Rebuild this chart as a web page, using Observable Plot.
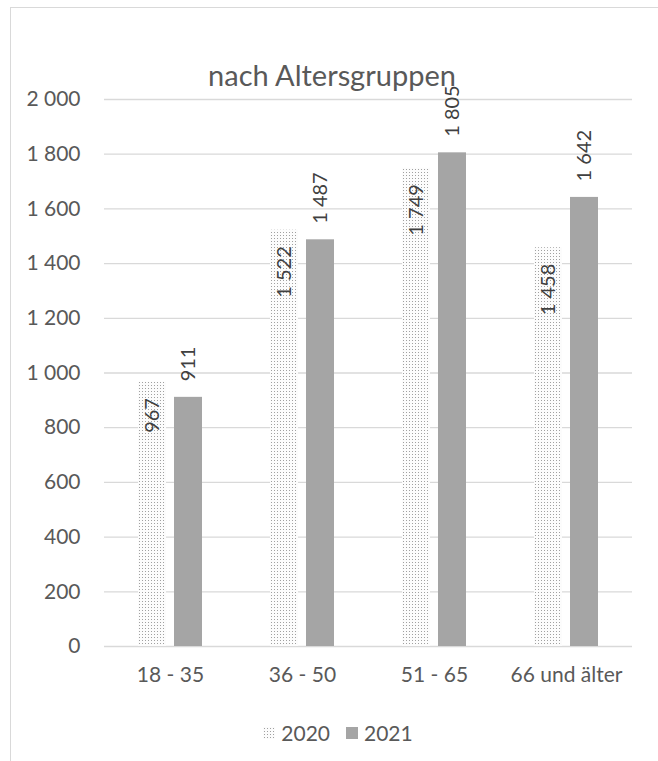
<!DOCTYPE html>
<html>
<head>
<meta charset="utf-8">
<script src="https://cdn.jsdelivr.net/npm/d3@7"></script>
<script src="https://cdn.jsdelivr.net/npm/@observablehq/plot@0.6"></script>
<style>
  body { margin: 0; background: #fff; font-family: Lato, "Open Sans", sans-serif; }
  #wrap { position: relative; width: 658px; height: 761px; overflow: hidden; }
  #frame { position: absolute; left: 10px; top: 7px; width: 700px; height: 800px; border: 1px solid #d9d9d9; box-sizing: border-box; }
  #title { position: absolute; left: 0; top: 60px; width: 664px; text-align: center; font-size: 29px; line-height: 30px; color: #595959; }
  #chart { position: absolute; left: 0; top: 0; }
  #legend { position: absolute; left: 0; top: 720px; width: 676px; display: flex; justify-content: center; align-items: center; font-size: 21px; color: #595959; }
  .item { display: flex; align-items: center; margin: 0 8px; }
  .item svg { margin-right: 6px; }
</style>
</head>
<body>
<div id="wrap">
  <div id="frame"></div>
  <div id="chart"></div>
  <div id="title">nach Altersgruppen</div>
  <div id="legend"></div>
</div>
<script>
const categories = ["18 - 35", "36 - 50", "51 - 65", "66 und älter"];
const years = ["2020", "2021"];
const values2020 = [967, 1522, 1749, 1458];
const values2021 = [911, 1487, 1805, 1642];
const yTicks = [0, 200, 400, 600, 800, 1000, 1200, 1400, 1600, 1800, 2000];

const data = categories.flatMap((c, i) => [
  {cat: c, year: years[0], value: values2020[i]},
  {cat: c, year: years[1], value: values2021[i]}
]);
const fmt = d => d3.format(",")(d).replace(/,/g, " ");

const chart = Plot.plot({
  width: 658,
  height: 700,
  marginTop: 99,
  marginBottom: 54,
  marginLeft: 104,
  marginRight: 26,
  style: {fontFamily: "Lato, 'Open Sans', sans-serif", fontSize: "21px", color: "#595959", background: "transparent", overflow: "visible"},
  fx: {domain: categories, padding: 0, label: null, axis: "bottom", tickSize: 0, tickPadding: 21},
  x: {domain: years, paddingInner: 0.23, paddingOuter: 0.9, axis: null},
  y: {domain: [0, 2000], axis: "left", ticks: yTicks, tickFormat: fmt, tickSize: 0, tickPadding: 24, label: null},
  color: {domain: years, range: ["url(#dots)", "#a5a5a5"]},
  marks: [
    Plot.ruleY(yTicks, {stroke: "#d9d9d9", strokeWidth: 1.3}),
    Plot.barY(data, {fx: "cat", x: "year", y: "value", fill: "year"}),
    Plot.text(data.filter(d => d.year === years[0]), {fx: "cat", x: "year", y: "value", text: d => fmt(d.value), rotate: -90, textAnchor: "end", dy: 16, fill: "#404040", fontSize: 20}),
    Plot.text(data.filter(d => d.year === years[1]), {fx: "cat", x: "year", y: "value", text: d => fmt(d.value), rotate: -90, textAnchor: "start", dy: -16, fill: "#404040", fontSize: 20})
  ]
});

const defs = d3.select(chart).insert("defs", ":first-child");
const pat = defs.append("pattern").attr("id", "dots").attr("patternUnits", "userSpaceOnUse")
  .attr("width", 3).attr("height", 3);
pat.append("rect").attr("width", 3).attr("height", 3).attr("fill", "#fcfcfc");
pat.append("rect").attr("x", 1).attr("y", 1).attr("width", 1).attr("height", 1).attr("fill", "#a0a0a0");

document.getElementById("chart").appendChild(chart);

const legend = document.getElementById("legend");
years.forEach((y, i) => {
  const item = document.createElement("div");
  item.className = "item";
  const fill = i === 0 ? "url(#ldots)" : "#a5a5a5";
  item.innerHTML = `<svg width="12" height="12">${i === 0 ? '<defs><pattern id="ldots" patternUnits="userSpaceOnUse" width="3" height="3"><rect width="3" height="3" fill="#fcfcfc"/><rect x="1" y="1" width="1" height="1" fill="#a0a0a0"/></pattern></defs>' : ''}<rect width="12" height="12" fill="${fill}"/></svg><span>${y}</span>`;
  legend.appendChild(item);
});
</script>
</body>
</html>
